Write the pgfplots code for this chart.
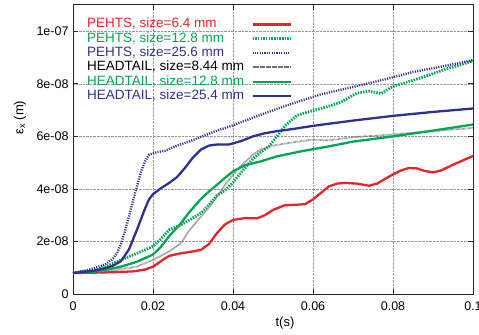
\documentclass[border=0pt]{standalone}
\usepackage{fontspec}
\setmainfont{Liberation Sans}
\usepackage{pgfplots}
\pgfplotsset{compat=1.18}
\definecolor{cred}{RGB}{235,35,40}
\definecolor{cgreen}{RGB}{0,166,81}
\definecolor{cblue}{RGB}{46,49,146}
\begin{document}
\begin{tikzpicture}
\begin{axis}[
  name=ax,
  scale only axis, width=400bp, height=289bp,
  xmin=0, xmax=0.1, ymin=0, ymax=11,
  xtick={0,0.02,0.04,0.06,0.08,0.1},
  xticklabels={0,0.02,0.04,0.06,0.08,0.1},
  ytick={0,2,4,6,8,10},
  yticklabels={0,2e-08,4e-08,6e-08,8e-08,1e-07},
  /pgf/number format/assume math mode=true,
  tick label style={font=\fontsize{12.5bp}{14bp}\selectfont},
  tick align=inside, major tick length=5bp,
  grid=major, major grid style={densely dotted, gray!80, line width=0.6pt},
  axis line style={line width=1pt, black!85},
  every tick/.style={black!85, line width=0.8pt},
  xticklabel style={yshift=-4bp},
  yticklabel style={xshift=-1bp},
  xlabel={t(s)}, ylabel={ε\textsubscript{x} (m)},
  label style={font=\fontsize{13bp}{15bp}\selectfont},
  xlabel style={at={(axis description cs:0.53,-0.10)}, anchor=center},
  ylabel style={at={(axis description cs:-0.1325,0.61)}, anchor=center, rotate=0},
  legend style={draw=none, fill=none, at={(rel axis cs:0.035,0.958)}, anchor=north west,
    inner sep=0pt, font=\fontsize{13.5bp}{15bp}\selectfont, row sep=0pt, column sep=7bp,
    nodes={inner xsep=0pt, inner ysep=1bp, text height=9.5bp, text depth=2.8bp}},
  legend cell align=left, legend plot pos=right,
  legend image code/.code={\draw[#1] (0bp,0bp) -- (38bp,0bp);},
]
% PEHTS 6.4 mm
\addplot[cred, line width=2.3pt] coordinates {
(0,0.8)(0.005,0.81)(0.010,0.83)(0.015,0.86)(0.018,0.93)(0.020,1.04)(0.022,1.25)(0.024,1.45)
(0.027,1.55)(0.030,1.62)(0.032,1.68)(0.034,1.9)(0.036,2.32)(0.038,2.65)(0.040,2.82)(0.043,2.89)
(0.046,2.88)(0.048,3.0)(0.050,3.2)(0.053,3.38)(0.056,3.4)(0.058,3.42)(0.060,3.6)(0.062,3.85)
(0.064,4.1)(0.066,4.2)(0.068,4.23)(0.071,4.2)(0.074,4.12)(0.076,4.2)(0.078,4.38)(0.080,4.55)
(0.082,4.7)(0.084,4.8)(0.086,4.78)(0.088,4.68)(0.090,4.63)(0.092,4.7)(0.095,4.92)(0.098,5.12)(0.100,5.25)};
\addlegendentry{\textcolor{cred}{PEHTS, size=6.4 mm}}
% PEHTS 12.8 mm
\addplot[cgreen, line width=2.8pt, dash pattern=on 1.5pt off 1.2pt] coordinates {
(0,0.8)(0.005,0.9)(0.008,1.02)(0.012,1.3)(0.016,1.55)(0.020,1.81)(0.022,2.1)(0.024,2.44)
(0.027,2.63)(0.030,2.9)(0.032,3.08)(0.034,3.4)(0.036,3.75)(0.038,3.95)(0.040,4.25)(0.042,4.62)
(0.045,5.15)(0.047,5.4)(0.049,5.62)(0.051,6.0)(0.053,6.4)(0.056,6.8)(0.060,6.98)(0.064,7.15)
(0.067,7.3)(0.071,7.65)(0.074,7.72)(0.077,7.63)(0.080,7.9)(0.087,8.23)(0.093,8.55)(0.1,8.87)};
\addlegendentry{\textcolor{cgreen}{PEHTS, size=12.8 mm}}
% PEHTS 25.6 mm
\addplot[cblue, line width=2.4pt, dash pattern=on 1.1pt off 1.3pt] coordinates {
(0,0.8)(0.004,0.92)(0.008,1.12)(0.010,1.35)(0.011,1.55)(0.012,1.9)(0.013,2.4)(0.014,2.95)
(0.015,3.55)(0.016,4.1)(0.017,4.65)(0.018,5.05)(0.019,5.3)(0.021,5.4)(0.023,5.45)(0.026,5.65)
(0.029,5.8)(0.032,5.98)(0.036,6.22)(0.040,6.42)(0.046,6.77)(0.054,7.21)(0.062,7.6)(0.070,7.88)
(0.078,8.17)(0.085,8.45)(0.092,8.65)(0.1,8.9)};
\addlegendentry{\textcolor{cblue}{PEHTS, size=25.6 mm}}
% HEADTAIL 8.44 mm
\addplot[black!55, line width=1.8pt, dash pattern=on 0.5pt off 0.7pt] coordinates {
(0,0.8)(0.005,0.82)(0.010,0.9)(0.016,1.04)(0.020,1.3)(0.024,1.61)(0.027,1.93)(0.029,2.4)
(0.032,2.95)(0.034,3.3)(0.036,3.71)(0.038,4.15)(0.040,4.55)(0.042,4.88)(0.045,5.3)(0.047,5.5)
(0.049,5.62)(0.054,5.75)(0.060,5.88)(0.064,5.85)(0.07,5.97)(0.08,6.07)(0.09,6.2)(0.1,6.32)};
\addlegendentry{\textcolor{black}{HEADTAIL, size=8.44 mm}}
% HEADTAIL 12.8 mm
\addplot[cgreen, line width=2.3pt] coordinates {
(0,0.8)(0.005,0.85)(0.008,0.92)(0.012,1.04)(0.016,1.23)(0.020,1.5)(0.022,1.8)(0.024,2.19)
(0.027,2.7)(0.029,3.1)(0.032,3.62)(0.034,3.9)(0.036,4.16)(0.038,4.42)(0.040,4.67)(0.043,4.9)
(0.047,5.05)(0.051,5.24)(0.057,5.43)(0.064,5.62)(0.07,5.8)(0.08,6.0)(0.09,6.22)(0.1,6.45)};
\addlegendentry{\textcolor{cgreen}{HEADTAIL, size=12.8 mm}}
% HEADTAIL 25.4 mm
\addplot[cblue, line width=2.3pt] coordinates {
(0,0.8)(0.005,0.88)(0.008,0.98)(0.010,1.08)(0.012,1.25)(0.014,1.7)(0.016,2.45)(0.018,3.25)
(0.019,3.6)(0.020,3.8)(0.022,4.03)(0.024,4.22)(0.026,4.45)(0.028,4.8)(0.030,5.2)(0.032,5.5)
(0.034,5.65)(0.036,5.69)(0.039,5.69)(0.042,5.82)(0.045,6.0)(0.048,6.12)(0.051,6.2)(0.055,6.28)
(0.060,6.4)(0.070,6.6)(0.080,6.78)(0.090,6.93)(0.1,7.06)};
\addlegendentry{\textcolor{cblue}{HEADTAIL, size=25.4 mm}}
\end{axis}
\pgfresetboundingbox
\path[use as bounding box] ([shift={(-73bp,-41bp)}]ax.south west) rectangle ([shift={(6bp,5bp)}]ax.north east);
\end{tikzpicture}
\end{document}
